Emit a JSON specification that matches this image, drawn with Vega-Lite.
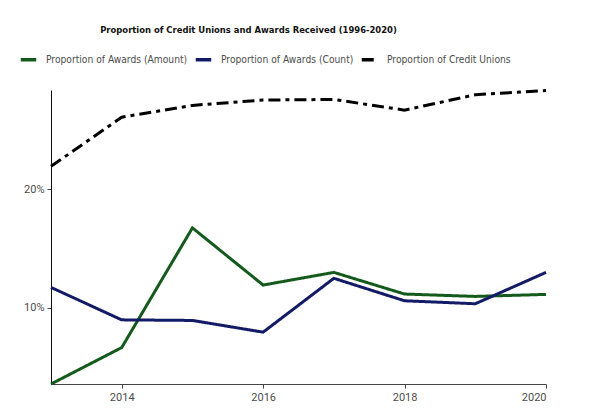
{
  "$schema": "https://vega.github.io/schema/vega-lite/v6.json",
  "width": 495,
  "height": 294,
  "autosize": "none",
  "padding": {"left": 51, "top": 90, "right": 54, "bottom": 36},
  "background": "white",
  "title": {
    "text": "Proportion of Credit Unions and Awards Received (1996-2020)",
    "font": "DejaVu Sans Condensed",
    "fontSize": 9.4,
    "fontWeight": "bold",
    "color": "#111111",
    "anchor": "middle",
    "dx": -50,
    "offset": 15
  },
  "data": {
    "values": [
      {"year": 2013, "series": "Proportion of Awards (Amount)", "value": 0.0356},
      {"year": 2014, "series": "Proportion of Awards (Amount)", "value": 0.0664},
      {"year": 2015, "series": "Proportion of Awards (Amount)", "value": 0.1675},
      {"year": 2016, "series": "Proportion of Awards (Amount)", "value": 0.1192},
      {"year": 2017, "series": "Proportion of Awards (Amount)", "value": 0.1299},
      {"year": 2018, "series": "Proportion of Awards (Amount)", "value": 0.1116},
      {"year": 2019, "series": "Proportion of Awards (Amount)", "value": 0.1096},
      {"year": 2020, "series": "Proportion of Awards (Amount)", "value": 0.1113},
      {"year": 2013, "series": "Proportion of Awards (Count)", "value": 0.1172},
      {"year": 2014, "series": "Proportion of Awards (Count)", "value": 0.0898},
      {"year": 2015, "series": "Proportion of Awards (Count)", "value": 0.0893},
      {"year": 2016, "series": "Proportion of Awards (Count)", "value": 0.0794},
      {"year": 2017, "series": "Proportion of Awards (Count)", "value": 0.1249},
      {"year": 2018, "series": "Proportion of Awards (Count)", "value": 0.1059},
      {"year": 2019, "series": "Proportion of Awards (Count)", "value": 0.1034},
      {"year": 2020, "series": "Proportion of Awards (Count)", "value": 0.1299},
      {"year": 2013, "series": "Proportion of Credit Unions", "value": 0.2195},
      {"year": 2014, "series": "Proportion of Credit Unions", "value": 0.261},
      {"year": 2015, "series": "Proportion of Credit Unions", "value": 0.271},
      {"year": 2016, "series": "Proportion of Credit Unions", "value": 0.2755},
      {"year": 2017, "series": "Proportion of Credit Unions", "value": 0.276},
      {"year": 2018, "series": "Proportion of Credit Unions", "value": 0.267},
      {"year": 2019, "series": "Proportion of Credit Unions", "value": 0.28},
      {"year": 2020, "series": "Proportion of Credit Unions", "value": 0.2835}
    ]
  },
  "mark": {"type": "line", "strokeWidth": 3, "strokeJoin": "miter"},
  "encoding": {
    "x": {
      "field": "year",
      "type": "quantitative",
      "scale": {"domain": [2013, 2020], "nice": false, "zero": false},
      "axis": {
        "title": null,
        "values": [2014, 2016, 2018, 2020],
        "format": "d",
        "grid": false,
        "domainColor": "#444444",
        "tickColor": "#444444",
        "tickSize": 4,
        "labelFont": "Roboto",
        "labelFontSize": 11,
        "labelColor": "#4d4d4d",
        "labelPadding": 3
      }
    },
    "y": {
      "field": "value",
      "type": "quantitative",
      "scale": {"domain": [0.0356, 0.284], "nice": false, "zero": false},
      "axis": {
        "title": null,
        "values": [0.1, 0.2],
        "format": ".0%",
        "grid": false,
        "domainColor": "#111111",
        "tickColor": "#444444",
        "tickSize": 4,
        "labelFont": "Roboto",
        "labelFontSize": 11,
        "labelColor": "#4d4d4d",
        "labelPadding": 3
      }
    },
    "color": {
      "field": "series",
      "type": "nominal",
      "scale": {
        "domain": ["Proportion of Awards (Amount)", "Proportion of Awards (Count)", "Proportion of Credit Unions"],
        "range": ["#145a1c", "#131a66", "#000000"]
      },
      "legend": {
        "title": null,
        "orient": "none",
        "direction": "horizontal",
        "legendX": -32,
        "legendY": -40,
        "symbolType": "stroke",
        "symbolSize": 240,
        "symbolStrokeWidth": 3.5,
        "symbolDash": [1, 0],
        "labelFont": "DejaVu Sans Condensed",
        "labelFontSize": 10.2,
        "labelColor": "#4d4d4d",
        "labelOffset": 8,
        "columnPadding": 0
      }
    },
    "strokeDash": {
      "field": "series",
      "type": "nominal",
      "scale": {
        "domain": ["Proportion of Awards (Amount)", "Proportion of Awards (Count)", "Proportion of Credit Unions"],
        "range": [[1, 0], [1, 0], [12, 5, 4, 5]]
      },
      "legend": null
    }
  },
  "config": {
    "view": {"stroke": null}
  }
}
